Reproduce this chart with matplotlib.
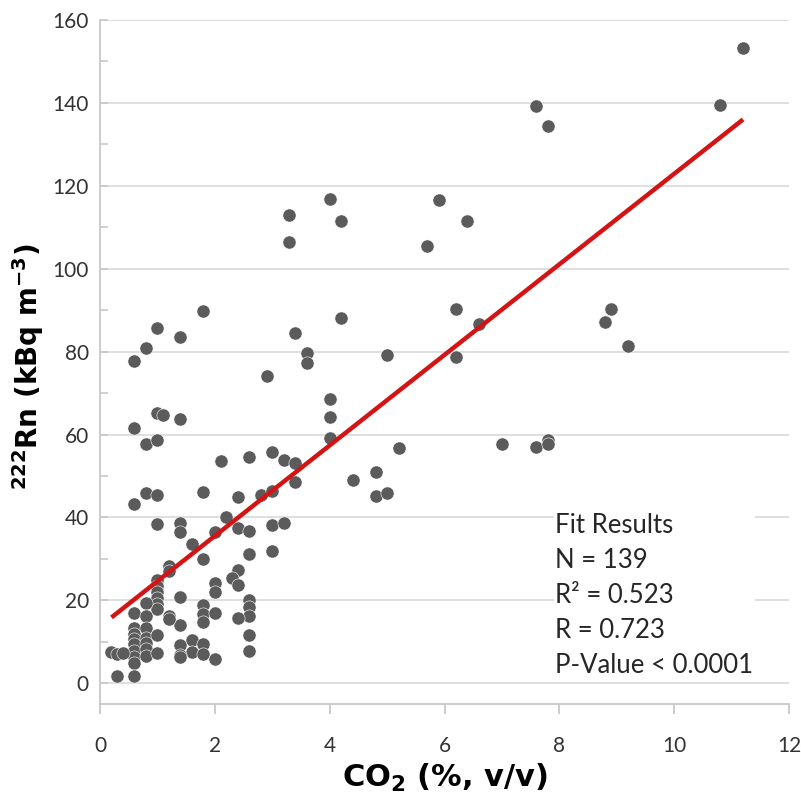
import matplotlib
matplotlib.use("Agg")
import matplotlib.pyplot as plt
from matplotlib.ticker import MultipleLocator

# ---- data ----
co2 = [11.2, 10.8, 7.6, 7.8, 6.4, 6.2, 6.6, 6.2, 8.9, 8.8, 9.2, 4.2, 3.6, 3.6, 5.0,
       4.0, 4.0, 4.0, 5.2, 7.0, 7.6, 7.8, 7.8, 4.4, 4.8, 4.8, 5.0, 3.3, 3.3, 4.0,
       4.2, 5.9, 5.7, 1.8, 1.0, 0.8, 0.6, 1.4, 2.9, 3.4, 1.0, 1.1, 0.6, 1.4, 0.8,
       1.0, 2.1, 2.6, 3.0, 3.2, 3.4, 3.4, 0.8, 1.0, 1.8, 0.6, 2.4, 2.8, 3.0, 2.2,
       2.0, 2.4, 2.6, 3.0, 3.2, 1.6, 1.8, 2.6, 3.0, 2.4, 2.3, 2.4, 2.0, 2.0, 2.6,
       2.6, 2.6, 1.8, 1.8, 1.8, 2.0, 2.4, 2.6, 2.6, 1.6, 1.6, 1.8, 1.8, 2.0, 1.0,
       1.4, 1.4, 1.2, 1.2, 1.0, 1.0, 1.0, 1.0, 1.0, 1.0, 1.4, 0.8, 0.6, 0.8, 1.2,
       1.4, 0.6, 0.6, 0.6, 0.6, 0.6, 0.6, 0.6, 0.8, 0.8, 0.8, 0.8, 0.8, 1.0, 1.0,
       1.4, 1.4, 0.2, 0.3, 0.4, 0.3, 0.6, 1.2, 1.4]
rn = [153.2, 139.4, 139.2, 134.5, 111.5, 90.3, 86.6, 78.7, 90.3, 87.2, 81.3, 88.1, 79.6, 77.3, 79.2,
      68.6, 64.2, 59.1, 56.7, 57.7, 57.0, 58.7, 57.8, 49.0, 51.0, 45.2, 45.9, 113.0, 106.4, 116.8,
      111.5, 116.6, 105.6, 89.9, 85.7, 80.9, 77.8, 83.5, 74.2, 84.5, 65.2, 64.7, 61.5, 63.7, 57.8,
      58.7, 53.6, 54.5, 55.8, 53.9, 53.1, 48.5, 45.9, 45.4, 46.1, 43.3, 44.9, 45.5, 46.5, 40.0,
      36.5, 37.4, 36.8, 38.2, 38.7, 33.7, 29.9, 31.1, 31.9, 27.4, 25.4, 23.8, 24.1, 22.0, 20.0,
      18.4, 16.3, 19.0, 16.6, 14.7, 17.0, 15.8, 11.6, 7.8, 10.4, 7.6, 9.4, 7.0, 5.8, 38.4,
      38.7, 36.5, 28.3, 27.0, 25.0, 23.5, 22.0, 20.5, 19.2, 18.0, 20.8, 19.3, 16.9, 16.3, 16.2,
      14.0, 13.3, 12.0, 10.8, 9.4, 7.8, 6.4, 5.0, 13.4, 10.9, 9.7, 8.3, 6.5, 11.6, 7.2,
      9.2, 6.8, 7.5, 7.0, 7.2, 1.7, 1.7, 15.5, 6.3]

fit_slope = 10.92
fit_intercept = 13.7

fit_lines = ["Fit Results", "N = 139", "R\u00b2 = 0.523", "R = 0.723", "P-Value < 0.0001"]

x_label = "CO$_2$ (%, v/v)"
y_label = "$^{222}$Rn (kBq m$^{-3}$)"

# ---- style ----
plt.rcParams["mathtext.fontset"] = "custom"
plt.rcParams["mathtext.rm"] = "DejaVu Sans:bold"
plt.rcParams["mathtext.it"] = "DejaVu Sans:bold"
plt.rcParams["mathtext.bf"] = "DejaVu Sans:bold"

fig = plt.figure(figsize=(8.01, 8.0), dpi=100)
ax = fig.add_axes([100 / 801, 1 - 704 / 800, 689 / 801, 684 / 800])

ax.set_xlim(0, 12)
ax.set_ylim(-5, 160)
ax.xaxis.set_major_locator(MultipleLocator(2))
ax.yaxis.set_major_locator(MultipleLocator(20))
ax.yaxis.set_minor_locator(MultipleLocator(10))

ax.grid(axis="y", which="major", color="#d9d9d9", linewidth=1.2, zorder=0)
ax.set_axisbelow(True)

for s in ["top", "right"]:
    ax.spines[s].set_visible(False)
for s in ["left", "bottom"]:
    ax.spines[s].set_color("#c8c8c8")
    ax.spines[s].set_linewidth(1.3)

ax.scatter(co2, rn, s=90, color="#5b5b5b", edgecolors="white", linewidths=0.4, zorder=3)

x0, x1 = min(co2), max(co2)
ax.plot([x0, x1], [fit_intercept + fit_slope * x0, fit_intercept + fit_slope * x1],
        color="#d41414", linewidth=3.2, solid_capstyle="butt", zorder=4)

ax.tick_params(axis="x", which="major", direction="out", length=7, width=1.3,
               color="#c8c8c8", pad=16, labelcolor="#333333", labelsize=15)
ax.tick_params(axis="y", which="both", direction="in", length=6, width=1.2,
               color="#c8c8c8", pad=8, labelcolor="#333333", labelsize=15)
for lab in ax.get_xticklabels() + ax.get_yticklabels():
    lab.set_fontfamily(["Lato", "DejaVu Sans"])

ax.set_xlabel(x_label, fontsize=22, fontweight="bold", family="DejaVu Sans", labelpad=4)
ax.set_ylabel(y_label, fontsize=20, fontweight="bold", family="DejaVu Sans")
ax.yaxis.set_label_coords(-0.078, 0.493)

ax.text(0.661, 0.159, "\n".join(fit_lines), transform=ax.transAxes,
        ha="left", va="center", fontsize=18.5, family=["Lato", "DejaVu Sans"],
        color="#262626", linespacing=1.5, zorder=2.5,
        bbox=dict(boxstyle="square,pad=0.05", facecolor="white", edgecolor="none"))

fig.savefig("out.png", dpi=100)
